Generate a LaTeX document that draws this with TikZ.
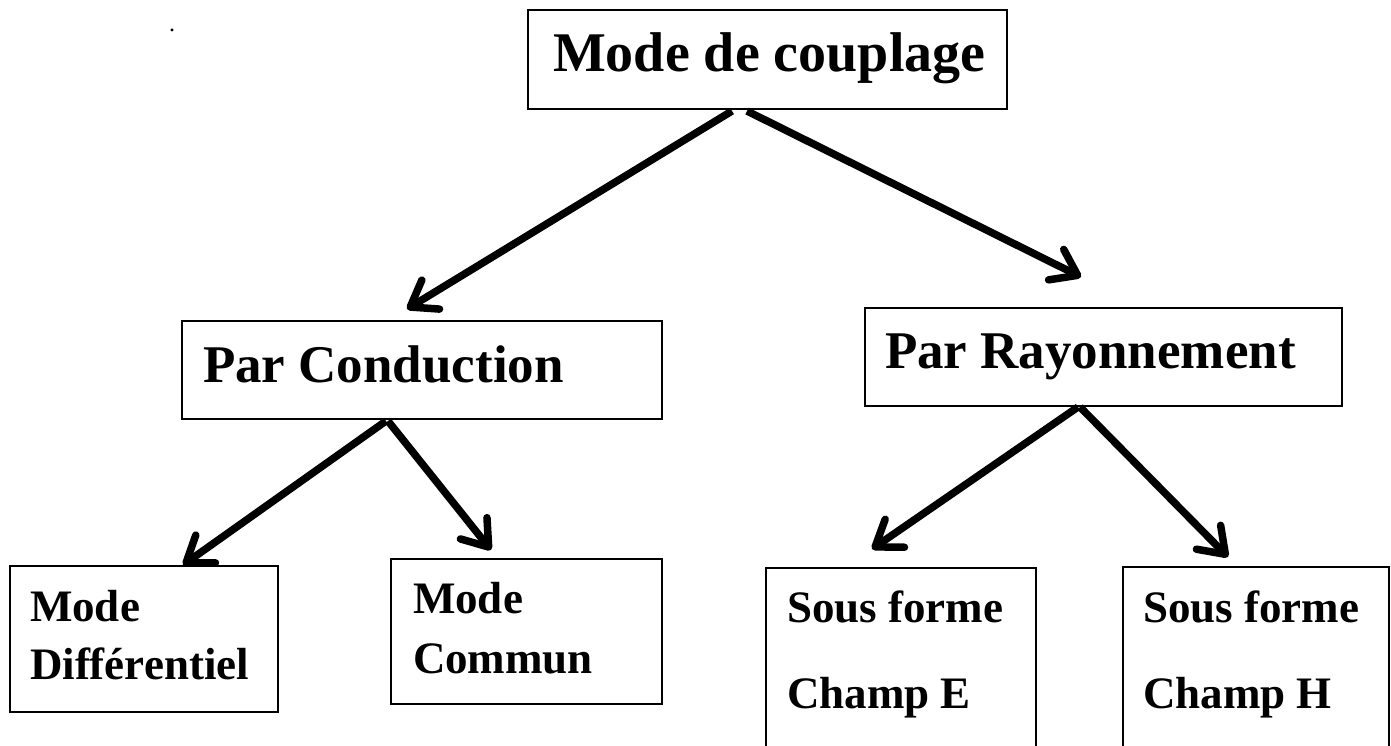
\documentclass[tikz,border=0pt]{standalone}
\usepackage{fontspec}
\setmainfont{Liberation Serif}
\usetikzlibrary{arrows.meta}
\begin{document}
\begin{tikzpicture}[x=1pt,y=-1pt,
  box/.style={draw, line width=1.8pt, inner sep=0pt, outer sep=0pt, anchor=north west},
  lbl/.style={anchor=base west, inner sep=0pt, outer sep=0pt},
  big/.style={lbl, font=\fontsize{56}{60}\selectfont\bfseries},
  mid/.style={lbl, font=\fontsize{53}{58}\selectfont\bfseries},
  small/.style={lbl, font=\fontsize{45}{50}\selectfont\bfseries},
  arr/.style={line width=7.5pt, -{Straight Barb[length=24pt,width=34pt,round]}}]
\useasboundingbox (0,0) rectangle (1391,746);
\clip (0,0) rectangle (1391,746);
% boxes
\node[box, minimum width=479pt, minimum height=99pt] (top) at (528,10) {};
\node[box, minimum width=480pt, minimum height=98pt] (cond) at (182,321) {};
\node[box, minimum width=477pt, minimum height=98pt] (ray) at (865,308) {};
\node[box, minimum width=268pt, minimum height=146pt] (diff) at (10,566) {};
\node[box, minimum width=271pt, minimum height=145pt] (comm) at (391,559) {};
\node[box, minimum width=270pt, minimum height=200pt] (chE) at (766,568) {};
\node[box, minimum width=266pt, minimum height=200pt] (chH) at (1123,567) {};
% labels
\node[big] (tTop) at (553,72) {Mode de couplage};
\node[mid] (tCond) at (203,382) {Par Conduction};
\node[mid] (tRay) at (885,368) {Par Rayonnement};
\node[small] (tDiffA) at (30,621) {Mode};
\node[small] (tDiffB) at (30,679) {Différentiel};
\node[small] (tCommA) at (413,613) {Mode};
\node[small] (tCommB) at (413,673) {Commun};
\node[small] (tEA) at (787,622) {Sous forme};
\node[small] (tEB) at (787,708) {Champ E};
\node[small] (tHA) at (1143,622) {Sous forme};
\node[small] (tHB) at (1143,708) {Champ H};
\node[inner sep=0pt, font=\fontsize{24}{24}\selectfont] (dot) at (172,30) {.};
% connector ends
\coordinate (s1) at (732,111);
\coordinate (e1) at (407,309);
\coordinate (s2) at (747,111);
\coordinate (e2) at (1081,277);
\coordinate (s3) at (386,421);
\coordinate (e3) at (183,565);
\coordinate (s4) at (388,421);
\coordinate (e4) at (491,550);
\coordinate (s5) at (1078,407);
\coordinate (e5) at (872,549);
\coordinate (s6) at (1080,407);
\coordinate (e6) at (1228,557);
\draw[arr] (s1) -- (e1);
\draw[arr] (s2) -- (e2);
\draw[arr] (s3) -- (e3);
\draw[arr] (s4) -- (e4);
\draw[arr] (s5) -- (e5);
\draw[arr] (s6) -- (e6);
\end{tikzpicture}
\end{document}
